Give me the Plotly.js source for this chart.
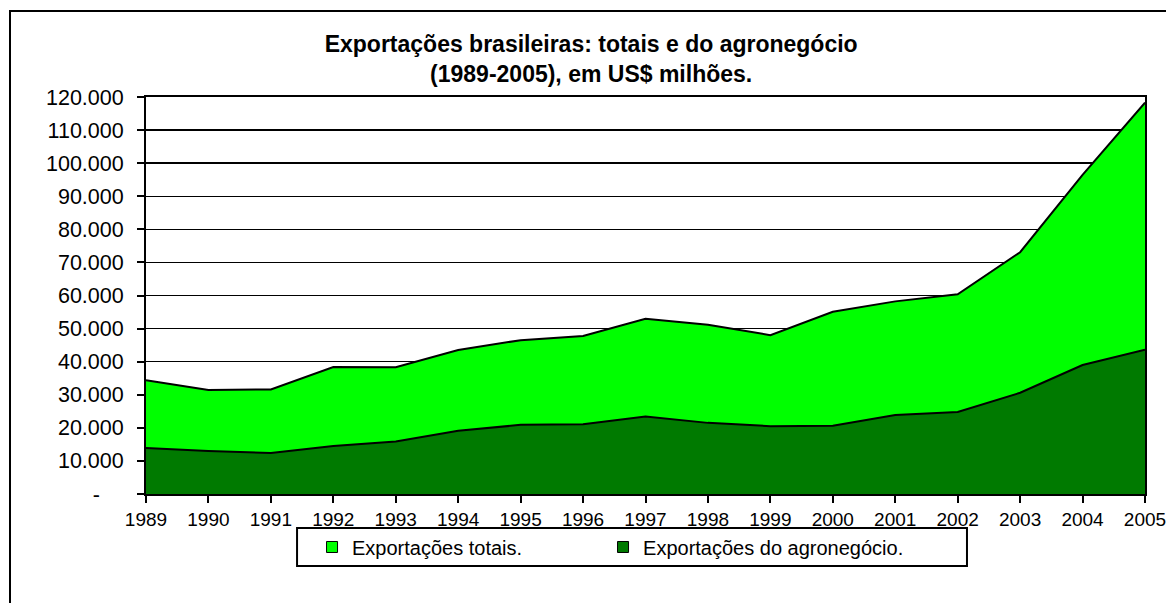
<!DOCTYPE html>
<html>
<head>
<meta charset="utf-8">
<script src="https://cdn.plot.ly/plotly-3.0.1.min.js"></script>
<style>
  html, body { margin:0; padding:0; width:1166px; height:603px; overflow:hidden; background:#ffffff; }
  #frame { position:absolute; left:9px; top:10px; width:1300px; height:800px; border:2px solid #000; box-sizing:border-box; }
  #chart { position:absolute; left:0; top:0; width:1166px; height:603px; }
</style>
</head>
<body>
<div id="frame"></div>
<div id="chart"></div>
<script>
const years = [1989,1990,1991,1992,1993,1994,1995,1996,1997,1998,1999,2000,2001,2002,2003,2004,2005];
const exportacoesTotais = [34383,31414,31620,38400,38300,43545,46506,47747,52994,51140,48011,55086,58223,60362,73084,96475,118308];
const exportacoesAgro = [13900,13000,12400,14500,15900,19100,20900,21100,23400,21500,20500,20600,23900,24800,30600,39000,43600];
const yTickVals = [0,10000,20000,30000,40000,50000,60000,70000,80000,90000,100000,110000,120000];
const yTickText = ['-\u00A0\u00A0\u00A0\u00A0','10.000','20.000','30.000','40.000','50.000','60.000','70.000','80.000','90.000','100.000','110.000','120.000'];
const seriesNames = ['Exportações totais.','Exportações do agronegócio.'];
const seriesColors = ['#00FF00', '#007A00'];
const chartTitle = 'Exportações brasileiras: totais e do agronegócio<br>(1989-2005), em US$ milhões.';

const FONT = 'Liberation Sans, Arial, sans-serif';

const traces = [
  {
    x: years, y: exportacoesTotais, name: seriesNames[0], showlegend: false,
    type: 'scatter', mode: 'lines', fill: 'tozeroy',
    fillcolor: seriesColors[0], line: {color: '#000000', width: 2}
  },
  {
    x: years, y: exportacoesAgro, name: seriesNames[1], showlegend: false,
    type: 'scatter', mode: 'lines', fill: 'tozeroy',
    fillcolor: seriesColors[1], line: {color: '#000000', width: 2}
  },
  // legend keys (no data points drawn)
  {
    x: [null], y: [null], name: seriesNames[0], legend: 'legend',
    type: 'scatter', mode: 'markers',
    marker: {symbol: 'square', size: 11, color: seriesColors[0], line: {color: '#000', width: 1}}
  },
  {
    x: [null], y: [null], name: seriesNames[1], legend: 'legend2',
    type: 'scatter', mode: 'markers',
    marker: {symbol: 'square', size: 11, color: seriesColors[1], line: {color: '#000', width: 1}}
  }
];

const legendCommon = {
  orientation: 'h', xanchor: 'left', yanchor: 'middle', y: -0.1335,
  borderwidth: 0, bgcolor: 'rgba(0,0,0,0)',
  font: {family: FONT, size: 20, color: '#000'}
};

const layout = {
  width: 1166, height: 603,
  margin: {l: 146, r: 21, t: 97, b: 109, pad: 0},
  paper_bgcolor: 'rgba(0,0,0,0)',
  plot_bgcolor: '#ffffff',
  separators: ',.',
  font: {family: FONT, size: 19, color: '#000000'},
  title: {
    text: chartTitle,
    font: {family: FONT, size: 23, color: '#000000', weight: 'bold'},
    xref: 'container', x: 0.507, xanchor: 'center',
    yref: 'container', y: 0.913, yanchor: 'top'
  },
  xaxis: {
    range: [1989, 2005],
    tickmode: 'array', tickvals: years, ticktext: years.map(String),
    ticks: 'outside', ticklen: 7, tickwidth: 2, tickcolor: '#000',
    showline: true, linecolor: '#000', linewidth: 2, mirror: true,
    showgrid: false, zeroline: false,
    ticklabeloverflow: 'allow',
    tickfont: {family: FONT, size: 19, color: '#000'}
  },
  yaxis: {
    range: [0, 120000],
    tickmode: 'array', tickvals: yTickVals, ticktext: yTickText,
    ticks: 'outside', ticklen: 7, tickwidth: 2, tickcolor: '#000',
    showline: true, linecolor: '#000', linewidth: 2, mirror: true,
    showgrid: true, gridcolor: '#000', gridwidth: 1.5,
    zeroline: false,
    ticklabelstandoff: 9,
    tickfont: {family: FONT, size: 21.5, color: '#000'},
    layer: 'below traces'
  },
  showlegend: true,
  legend: Object.assign({}, legendCommon, {x: 0.1662}),
  legend2: Object.assign({}, legendCommon, {x: 0.4575}),
  shapes: [
    {type: 'rect', xref: 'paper', yref: 'paper',
     x0: 0.1512, x1: 0.8218, y0: -0.0856, y1: -0.1814,
     line: {color: '#000', width: 2}, fillcolor: 'rgba(0,0,0,0)', layer: 'above'}
  ]
};

Plotly.newPlot('chart', traces, layout, {staticPlot: true, displayModeBar: false});
</script>
</body>
</html>
